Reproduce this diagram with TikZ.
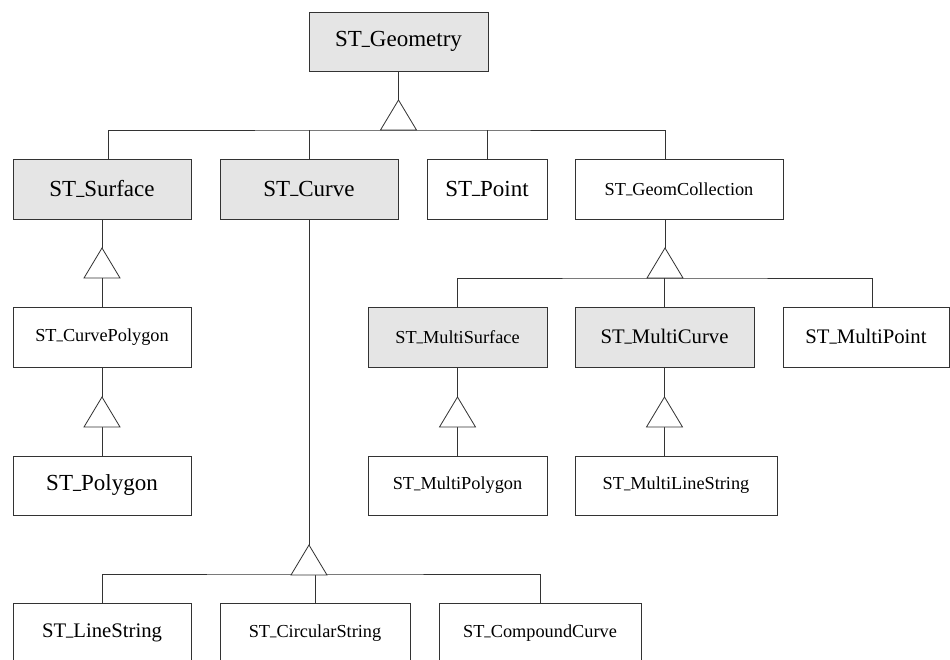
\documentclass[tikz,border=0pt]{standalone}
\usepackage{fontspec}
\setmainfont{Liberation Serif}
\usepackage{tikz}
\usetikzlibrary{positioning,calc}
\newcommand{\us}{\raisebox{.1em}{\scalebox{.7}[1]{\_}}}

\begin{document}
\begin{tikzpicture}[x=1pt,y=-1pt]
	\tikzset{cls/.style={draw=black!80,line width=.8pt,minimum height=60pt,inner sep=0pt},
		abs/.style={cls,fill=black!10},
		big/.style={font=\fontsize{23}{26}\selectfont},
		mid/.style={font=\fontsize{20.7}{24}\selectfont},
		small/.style={font=\fontsize{18.3}{22}\selectfont}}
	\tikzstyle{link}=[draw=black!80,line width=.8pt]
	\tikzstyle{gen}=[link,fill=white]

	\clip (0,0) rectangle (950,660);

	%% classes
	\node[abs,big,minimum width=179pt,minimum height=59pt] (geo) at (398.5,41.5) {ST\us Geometry};
	\node[abs,big,minimum width=178pt] (surf) at (102,189) {ST\us Surface};
	\node[abs,big,minimum width=178pt] (curve) at (309,189) {ST\us Curve};
	\node[cls,big,minimum width=120pt] (point) at (487,189) {ST\us Point};
	\node[cls,small,minimum width=208pt] (coll) at (679,189) {ST\us GeomCollection};
	\node[cls,small,minimum width=178pt] (cpoly) at (102,337) {ST\us CurvePolygon};
	\node[cls,big,minimum width=178pt,minimum height=59pt] (poly) at (102,485.5) {ST\us Polygon};
	\node[abs,small,minimum width=179pt] (msurf) at (457.5,337) {ST\us MultiSurface};
	\node[abs,mid,minimum width=179pt] (mcurve) at (664.5,337) {ST\us MultiCurve};
	\node[cls,mid,minimum width=166pt] (mpoint) at (866,337) {ST\us MultiPoint};
	\node[cls,small,minimum width=179pt,minimum height=59pt] (mpoly) at (457.5,485.5) {ST\us MultiPolygon};
	\node[cls,small,minimum width=202pt,minimum height=59pt] (mline) at (676,485.5) {ST\us MultiLineString};
	\node[cls,mid,minimum width=178pt] (lstr) at (102,633) {ST\us LineString};
	\node[cls,small,minimum width=190pt] (circ) at (315,633) {ST\us CircularString};
	\node[cls,small,minimum width=202pt] (comp) at (540,633) {ST\us CompoundCurve};

	%% triangle tips and bases
	\coordinate (t0) at (398.5,100); \coordinate (b0) at (398.5,130);
	\coordinate (t1) at (665,248);   \coordinate (b1) at (665,278);
	\coordinate (t2) at (102,248);   \coordinate (b2) at (102,278);
	\coordinate (t3) at (102,397);   \coordinate (b3) at (102,426);
	\coordinate (t4) at (457.5,397); \coordinate (b4) at (457.5,426);
	\coordinate (t5) at (664.5,397); \coordinate (b5) at (664.5,426);
	\coordinate (t6) at (309,545);   \coordinate (b6) at (309,574);

	%% generalisations
	\draw[link] (geo.south) -- (t0);
	\draw[link] ([xshift=6pt]surf.north) |- (b0) -| ([xshift=-14pt]coll.north);
	\draw[link] (curve.north) -- (curve.north |- b0);
	\draw[link] (point.north) -- (point.north |- b0);

	\draw[link] ([xshift=-14pt]coll.south) -- (t1);
	\draw[link] (msurf.north) |- (b1) -| ([xshift=6pt]mpoint.north);
	\draw[link] (mcurve.north) -- (mcurve.north |- b1);

	\draw[link] (surf.south) -- (t2);
	\draw[link] (b2) -- (cpoly.north);
	\draw[link] (cpoly.south) -- (t3);
	\draw[link] (b3) -- (poly.north);

	\draw[link] (msurf.south) -- (t4);
	\draw[link] (b4) -- (mpoly.north);
	\draw[link] (mcurve.south) -- (t5);
	\draw[link] (b5) -- (b5 |- mline.north);

	\draw[link] (curve.south) -- (t6);
	\draw[link] (lstr.north) |- (b6) -| (comp.north);
	\draw[link] (circ.north) -- (circ.north |- b6);

	\foreach \i in {0,...,6}
		\draw[gen] (t\i) -- ++(-18,30) -- ++(36,0) -- cycle;
\end{tikzpicture}
\end{document}
